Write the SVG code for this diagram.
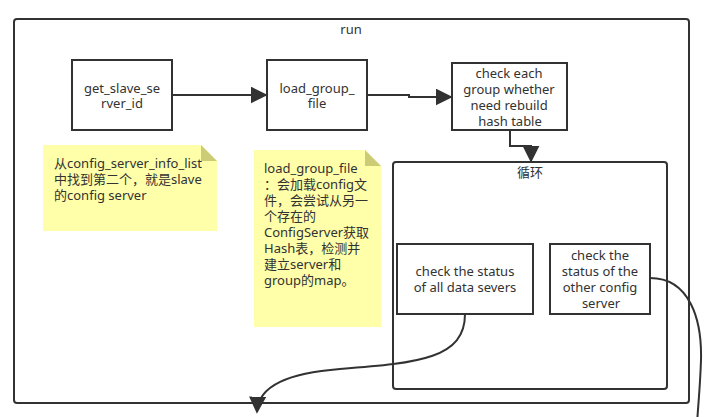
<svg xmlns="http://www.w3.org/2000/svg" width="707" height="417" viewBox="0 0 707 417">
<defs>
<style>
.box{fill:#fff;stroke:#323232;stroke-width:2}
.frame{fill:#fff;stroke:#323232;stroke-width:2}
.note{fill:#ffffaa}
.fold{fill:#cccc77}
.t{font-family:"Noto Sans","Noto Sans CJK SC",sans-serif;font-size:13px;fill:#323232}
.c{text-anchor:middle}
.ln{fill:none;stroke:#323232;stroke-width:2}
</style>
<marker id="ahb" viewBox="0 0 10 10" refX="9" refY="5" markerWidth="17" markerHeight="17" markerUnits="userSpaceOnUse" orient="auto">
<path d="M0,0 L10,5 L0,10 Z" fill="#323232"/>
</marker>
</defs>

<g id="run">
<rect class="frame" x="14" y="19" width="675" height="384" rx="3"/>
<text class="t c" x="351" y="34">run</text>
</g>

<g id="loop">
<rect class="frame" x="393" y="162" width="274" height="227" rx="3"/>
<text class="t c" x="530" y="177">循环</text>
</g>

<g id="get_slave_server_id">
<rect class="box" x="72" y="60" width="100" height="70"/>
<text class="t c" x="122" y="93">get_slave_se</text>
<text class="t c" x="122" y="108">rver_id</text>
</g>

<g id="load_group_file">
<rect class="box" x="267" y="60" width="100" height="70"/>
<text class="t c" x="317" y="93">load_group_</text>
<text class="t c" x="317" y="108">file</text>
</g>

<g id="check_each_group">
<rect class="box" x="452" y="63" width="115" height="67"/>
<text class="t c" x="509" y="78">check each</text>
<text class="t c" x="509" y="94">group whether</text>
<text class="t c" x="509" y="110">need rebuild</text>
<text class="t c" x="510" y="126">hash table</text>
</g>

<g id="check_data_servers">
<rect class="box" x="397" y="244" width="136" height="70"/>
<text class="t c" x="465" y="276">check the status</text>
<text class="t c" x="465" y="292">of all data severs</text>
</g>

<g id="check_config_server">
<rect class="box" x="550" y="244" width="100" height="70"/>
<text class="t c" x="600" y="260">check the</text>
<text class="t c" x="600" y="276">status of the</text>
<text class="t c" x="600" y="292">other config</text>
<text class="t c" x="601" y="308">server</text>
</g>

<g id="note1">
<path class="note" d="M43,145 L201,145 L217,161 L217,231 L43,231 Z"/>
<path class="fold" d="M201,145 L217,161 L201,161 Z"/>
<text class="t" x="54" y="168">从config_server_info_list</text>
<text class="t" x="54" y="184">中找到第二个，就是slave</text>
<text class="t" x="54" y="200">的config server</text>
</g>

<g id="note2">
<path class="note" d="M254,150 L365,150 L381,166 L381,327 L254,327 Z"/>
<path class="fold" d="M365,150 L381,166 L365,166 Z"/>
<text class="t" x="264" y="173">load_group_file</text>
<text class="t" x="264" y="189">：会加载config文</text>
<text class="t" x="264" y="205">件，会尝试从另一</text>
<text class="t" x="264" y="221">个存在的</text>
<text class="t" x="264" y="237">ConfigServer获取</text>
<text class="t" x="264" y="253">Hash表，检测并</text>
<text class="t" x="264" y="269">建立server和</text>
<text class="t" x="264" y="285">group的map。</text>
</g>

<g id="connectors">
<path class="ln" d="M172,95 L266,95" marker-end="url(#ahb)"/>
<path class="ln" d="M367,95 L409,95 L409,97 L451,97" marker-end="url(#ahb)"/>
<path class="ln" d="M510,130 L510,146 L531,146 L531,161" marker-end="url(#ahb)"/>
<path class="ln" d="M465,314 C465,358 420,363 340,369 C290,373 258,385 257,412" marker-end="url(#ahb)"/>
<path class="ln" d="M650,278 C690,278 702,320 701,360 C700,390 698,405 697,425"/>
</g>
</svg>
